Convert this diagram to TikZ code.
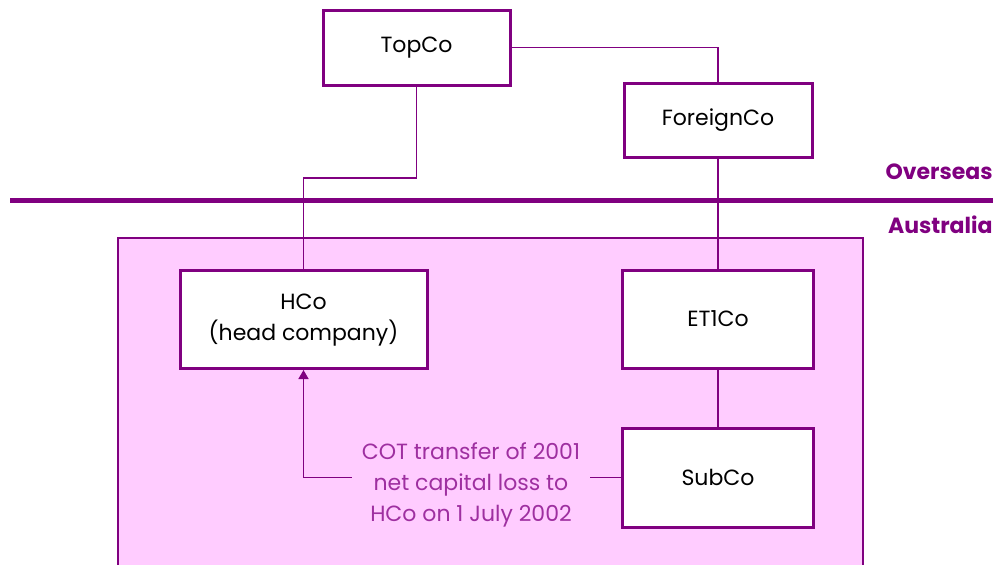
\documentclass[tikz,border=0pt]{standalone}
\usepackage{fontspec}
\setmainfont{Poppins}
\usetikzlibrary{arrows.meta}
\definecolor{plum}{HTML}{800080}
\definecolor{pinkfill}{HTML}{FFCCFF}
\definecolor{notetext}{HTML}{9E2FA0}

\begin{document}
\begin{tikzpicture}
[x=0.5pt, y=-0.5pt, every node/.style={inner sep=0pt},
 company/.style={rectangle, draw=plum, line width=1.5pt, fill=white, align=center, font=\fontsize{11}{15.5}\selectfont},
 link/.style={draw=plum, line width=0.75pt},
 side/.style={anchor=east, text=plum, font=\fontsize{11}{13}\selectfont\bfseries}]
\clip (0,0) rectangle (1003,564);
\useasboundingbox (0,0) rectangle (1003,564);
\fill [pinkfill, draw=plum, line width=1pt] (118,238) rectangle (863,620);
\draw [plum, line width=2.5pt] (10,200) -- (993,200);
\node (overseas) [side] at (993,172) {Overseas};
\node (australia) [side] at (993,225) {Australia};
\node (topco) [company, minimum width=93.5pt, minimum height=37.5pt] at (416.5,47.5) {TopCo};
\node (foreignco) [company, minimum width=94pt, minimum height=37pt] at (718,120) {ForeignCo};
\node (hco) [company, minimum width=123.5pt, minimum height=49pt, text depth=2pt] at (303.5,319.5) {HCo\\(head company)};
\node (et1co) [company, minimum width=95.5pt, minimum height=49pt] at (718,319) {ET1Co};
\node (subco) [company, minimum width=95.5pt, minimum height=49.5pt] at (718,477.5) {SubCo};
\node (note) [align=center, inner xsep=5pt, text=notetext, font=\fontsize{11}{15.5}\selectfont] at (471,485) {COT transfer of 2001\\net capital loss to\\HCo on 1 July 2002};
\coordinate (drop) at (416.5,178);
\draw [link] (topco.east) -| (foreignco.north);
\draw [link] (topco.south) -- (drop) -| (hco.north);
\draw [link] (foreignco.south) -- (et1co.north);
\draw [link] (et1co.south) -- (subco.north);
\draw [link] (subco.west) -- (subco.west -| note.east);
\draw [link, -{Triangle[width=5pt, length=4.5pt]}] (subco.west -| note.west) -| (hco.south);
\end{tikzpicture}
\end{document}
